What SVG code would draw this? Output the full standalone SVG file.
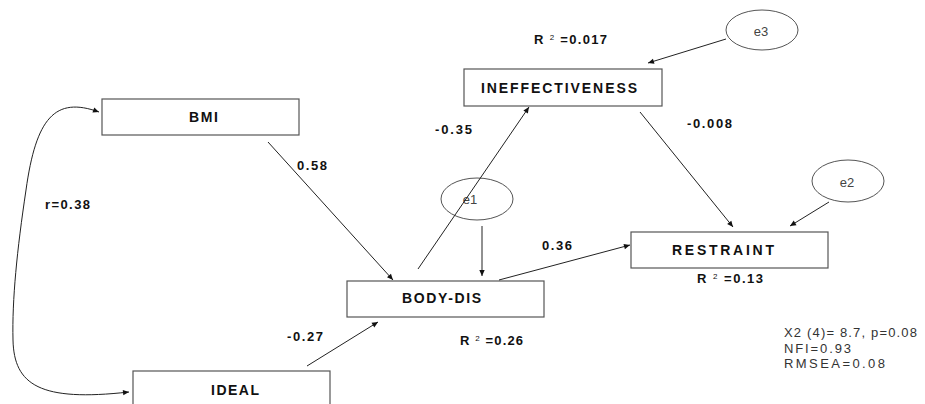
<svg xmlns="http://www.w3.org/2000/svg" width="925" height="404" viewBox="0 0 925 404">
<style>
.box{fill:#fff;stroke:#555;stroke-width:1.2}
.ell{fill:none;stroke:#555;stroke-width:1}
.lbl{font-family:"Liberation Sans",Arial,sans-serif;font-weight:bold;font-size:14px;fill:#111}
.num{font-family:"Liberation Sans",Arial,sans-serif;font-weight:bold;font-size:13px;fill:#111}
.err{font-family:"Liberation Sans",Arial,sans-serif;font-size:13px;fill:#444}
.stat{font-family:"Liberation Sans",Arial,sans-serif;font-size:13px;fill:#333}
.sup{font-size:8px;font-weight:normal}
.ln{fill:none;stroke:#222;stroke-width:1}
</style>
<defs>
<marker id="ah" viewBox="0 0 10 10" refX="10" refY="5" markerWidth="8" markerHeight="6" markerUnits="userSpaceOnUse" orient="auto-start-reverse">
<path d="M0,0.5 L10,5 L0,9.5 z" fill="#111"/>
</marker>
</defs>
<g id="bmi">
<rect class="box" x="102" y="99" width="197" height="36"/>
<text class="lbl" x="189" y="122" textLength="29">BMI</text>
</g>
<g id="ideal">
<rect class="box" x="133" y="371" width="197" height="40"/>
<text class="lbl" x="211" y="395" textLength="48">IDEAL</text>
</g>
<g id="ineffectiveness">
<rect class="box" x="464" y="69" width="198" height="37"/>
<text class="lbl" x="481" y="93" textLength="156">INEFFECTIVENESS</text>
<text class="num" x="534" y="44" textLength="73">R <tspan class="sup" dy="-4">2</tspan><tspan dy="4"> =0.017</tspan></text>
</g>
<g id="body-dis">
<rect class="box" x="347" y="281" width="197" height="36"/>
<text class="lbl" x="402" y="303" textLength="79">BODY-DIS</text>
<text class="num" x="460" y="345" textLength="63">R <tspan class="sup" dy="-4">2</tspan><tspan dy="4"> =0.26</tspan></text>
</g>
<g id="restraint">
<rect class="box" x="631" y="232" width="197" height="36"/>
<text class="lbl" x="672" y="255" textLength="102">RESTRAINT</text>
<text class="num" x="697" y="283" textLength="66">R <tspan class="sup" dy="-4">2</tspan><tspan dy="4"> =0.13</tspan></text>
</g>
<g id="e1">
<ellipse class="ell" cx="477" cy="199" rx="36" ry="21"/>
<text class="err" x="470" y="204" text-anchor="middle">e1</text>
</g>
<g id="e3">
<ellipse class="ell" cx="762" cy="30" rx="36" ry="20"/>
<text class="err" x="761" y="36" text-anchor="middle">e3</text>
</g>
<g id="e2">
<ellipse class="ell" cx="848" cy="181" rx="36" ry="21"/>
<text class="err" x="847" y="187" text-anchor="middle">e2</text>
</g>
<g id="connectors">
<path class="ln" d="M99,112 C55,96 36,118 26,190 C17,250 12,300 13,340 C14,385 40,402 129,392" marker-start="url(#ah)" marker-end="url(#ah)"/>
<line class="ln" x1="268" y1="142" x2="393" y2="280" marker-end="url(#ah)"/>
<line class="ln" x1="307" y1="366" x2="378" y2="322" marker-end="url(#ah)"/>
<line class="ln" x1="418" y1="269" x2="529" y2="107" marker-end="url(#ah)"/>
<line class="ln" x1="482" y1="226" x2="482" y2="276" marker-end="url(#ah)"/>
<line class="ln" x1="499" y1="280" x2="630" y2="245" marker-end="url(#ah)"/>
<line class="ln" x1="640" y1="112" x2="733" y2="227" marker-end="url(#ah)"/>
<line class="ln" x1="726" y1="39" x2="648" y2="63" marker-end="url(#ah)"/>
<line class="ln" x1="829" y1="202" x2="790" y2="226" marker-end="url(#ah)"/>
<text class="num" x="297" y="170" textLength="30">0.58</text>
<text class="num" x="45" y="209" textLength="45">r=0.38</text>
<text class="num" x="287" y="341" textLength="36">-0.27</text>
<text class="num" x="435" y="134" textLength="37">-0.35</text>
<text class="num" x="687" y="128" textLength="45">-0.008</text>
<text class="num" x="542" y="250" textLength="30">0.36</text>
</g>
<g id="fit">
<text class="stat" x="784" y="337" textLength="133">X2 (4)= 8.7, p=0.08</text>
<text class="stat" x="784" y="353" textLength="67">NFI=0.93</text>
<text class="stat" x="784" y="368" textLength="101">RMSEA=0.08</text>
</g>
</svg>
